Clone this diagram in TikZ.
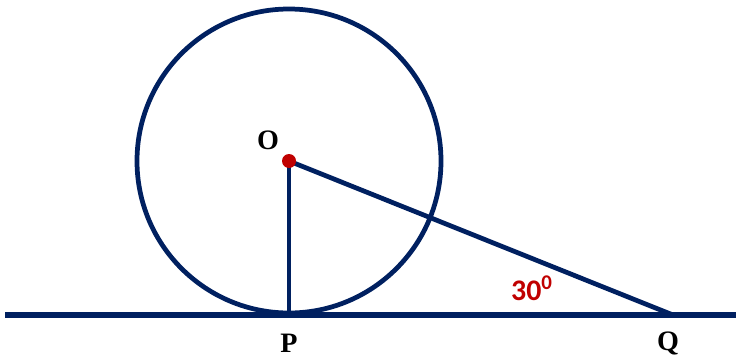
\documentclass[tikz,border=0pt]{standalone}
\usepackage{fontspec}
\setmainfont{Liberation Serif}
\newfontfamily\anglefont{Carlito}
\definecolor{navy}{RGB}{0,32,96}
\definecolor{darkred}{RGB}{192,0,0}
\begin{document}
\begin{tikzpicture}[x=0.02cm, y=-0.02cm,
    geom/.style={draw=navy, line width=2.7pt},
    lbl/.style={font=\bfseries\fontsize{16}{19}\selectfont}]
			\useasboundingbox (0,0) rectangle (736,358);
			\coordinate (O) at (289,161);
			\coordinate (P) at (289,315);
			\coordinate (Q) at (673,315);
			\coordinate (L) at (5,315);
			\coordinate (R) at (736,315);
			\draw[geom] (O) circle[radius=152*0.02cm];
			\draw[geom, line width=3.3pt] (L) -- (R);
			\draw[geom] (O) -- (P);
			\draw[geom, line join=miter] (O) -- (Q);
			\fill[darkred] (O) circle[radius=7*0.02cm];
			\node[lbl] (labO) at (268,140) {O};
			\node[lbl] (labP) at (289,343) {P};
			\node[lbl] (labQ) at (668,343) {Q};
			\node[text=darkred, font=\anglefont\bfseries\fontsize{17}{20}\selectfont] (ang) at (532,288) {30\textsuperscript{0}};
		\end{tikzpicture}
\end{document}
